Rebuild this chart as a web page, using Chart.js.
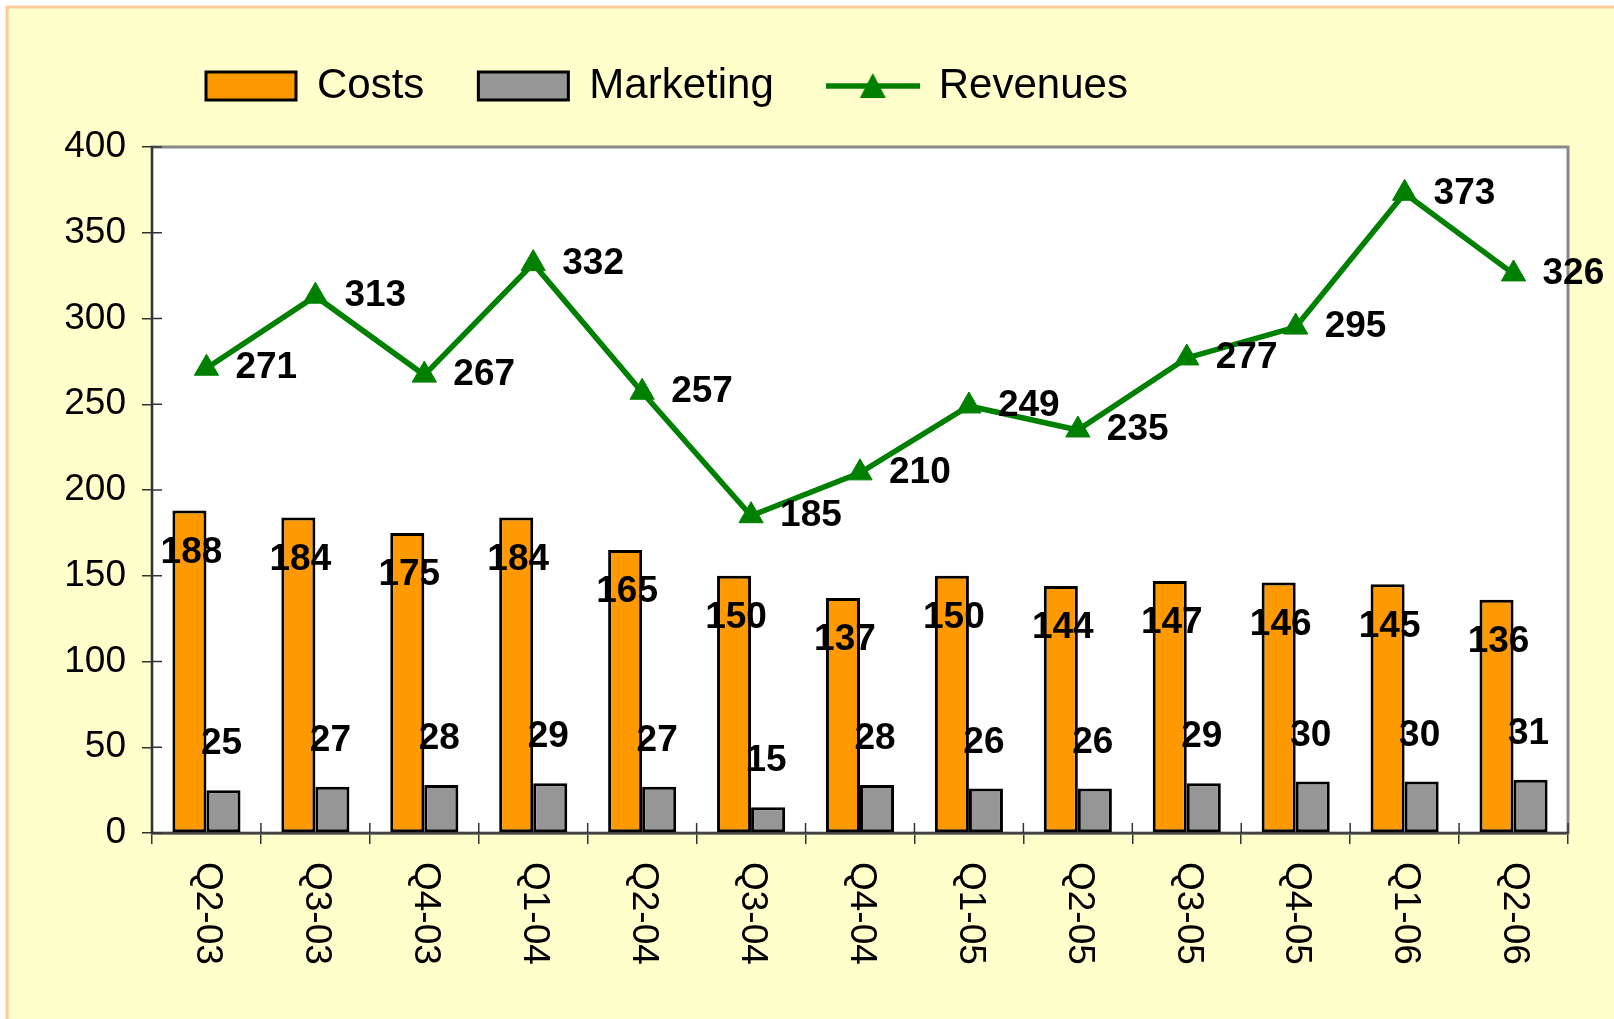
<!DOCTYPE html>
<html>
<head>
<meta charset="utf-8">
<title>Costs, Marketing and Revenues</title>
<script src="https://cdn.jsdelivr.net/npm/chart.js@4/dist/chart.umd.min.js"></script>
<style>
  html, body { margin: 0; padding: 0; background: #fff; overflow: hidden; }
  canvas { display: block; }
</style>
</head>
<body>
<canvas id="myChart" width="1614" height="1019"></canvas>
<script>
"use strict";

// quarters on the x axis
const quarters = ["Q2-03", "Q3-03", "Q4-03", "Q1-04", "Q2-04", "Q3-04", "Q4-04",
  "Q1-05", "Q2-05", "Q3-05", "Q4-05", "Q1-06", "Q2-06"];

// series values
const costs = [188, 184, 175, 184, 165, 150, 137, 150, 144, 147, 146, 145, 136];
const marketing = [25, 27, 28, 29, 27, 15, 28, 26, 26, 29, 30, 30, 31];
const revenues = [271, 313, 267, 332, 257, 185, 210, 249, 235, 277, 295, 373, 326];

// y axis ticks
const yTicks = [0, 50, 100, 150, 200, 250, 300, 350, 400];

const FONT = '"Liberation Sans", Arial, sans-serif';

//legend icon for the line series (line with a triangle on it)
const revIcon = document.createElement("canvas");
revIcon.width = 94;
revIcon.height = 30;
(function () {
  const g = revIcon.getContext("2d");
  g.strokeStyle = "#008000";
  g.lineWidth = 5.5;
  g.beginPath();
  g.moveTo(0, 15);
  g.lineTo(94, 15);
  g.stroke();
  g.fillStyle = "#008000";
  g.beginPath();
  g.moveTo(47, 2);
  g.lineTo(60, 27);
  g.lineTo(34, 27);
  g.closePath();
  g.fill();
})();

// page background, white plot area and its grey frame
const frame = {
  id: "frame",
  beforeDraw(chart) {
    const { ctx, chartArea: a } = chart;
    ctx.save();
    ctx.fillStyle = "#fff";
    ctx.fillRect(0, 0, chart.width, chart.height);
    ctx.fillStyle = "#FFFFCC";
    ctx.fillRect(7, 7, chart.width, chart.height);
    ctx.strokeStyle = "#FFCC99";
    ctx.lineWidth = 3;
    ctx.beginPath();
    ctx.moveTo(7, chart.height);
    ctx.lineTo(7, 7);
    ctx.lineTo(chart.width, 7);
    ctx.stroke();
    ctx.fillStyle = "#fff";
    ctx.fillRect(a.left, a.top, a.right - a.left, a.bottom - a.top);
    ctx.strokeStyle = "#888";
    ctx.lineWidth = 3;
    ctx.strokeRect(a.left, a.top, a.right - a.left, a.bottom - a.top);
    ctx.restore();
  },
};

// value labels next to bars and points
const valueLabels = {
  id: "valueLabels",
  afterDatasetsDraw(chart) {
    const ctx = chart.ctx;
    ctx.save();
    ctx.font = "bold 37px " + FONT;
    ctx.fillStyle = "#000";
    ctx.textBaseline = "middle";
    chart.data.datasets.forEach((ds, i) => {
      const meta = chart.getDatasetMeta(i);
      meta.data.forEach((el, j) => {
        const v = ds.data[j];
        if (ds.type === "line") {
          ctx.textAlign = "left";
          ctx.fillText(v, el.x + 29, el.y);
        } else if (i === 0) {
          ctx.textAlign = "center";
          ctx.fillText(v, el.x + 2, el.y + 42);
        } else {
          ctx.textAlign = "center";
          ctx.fillText(v, el.x - 2, el.y - 46);
        }
      });
    });
    ctx.restore();
  },
};

// vertical x labels (clockwise) and inner halves of the tick marks
const axisExtras = {
  id: "axisExtras",
  afterDraw(chart) {
    const ctx = chart.ctx;
    const xs = chart.scales.x;
    const ys = chart.scales.y;
    ctx.save();
    ctx.font = "37px " + FONT;
    ctx.fillStyle = "#000";
    quarters.forEach((q, i) => {
      ctx.save();
      ctx.translate(xs.getPixelForValue(i) + 1, xs.top + 29);
      ctx.rotate(Math.PI / 2);
      ctx.textAlign = "left";
      ctx.textBaseline = "middle";
      ctx.fillText(q, 0, 0);
      ctx.restore();
    });
    ctx.strokeStyle = "#333";
    ctx.lineWidth = 1.5;
    ctx.beginPath();
    ys.ticks.forEach((t, i) => {
      const y = ys.getPixelForTick(i);
      ctx.moveTo(ys.right, y);
      ctx.lineTo(ys.right + 10, y);
    });
    for (let i = 0; i <= quarters.length; i++) {
      const x = xs.getPixelForValue(i - 0.5);
      ctx.moveTo(x, xs.top);
      ctx.lineTo(x, xs.top - 10);
    }
    ctx.stroke();
    ctx.restore();
  },
};

const ctx = document.getElementById("myChart");
new Chart(ctx, {
  type: "bar",
  data: {
    labels: quarters,
    datasets: [
      {
        label: "Costs",
        data: costs,
        backgroundColor: "#FF9900",
        borderColor: "#000",
        borderWidth: 3,
        borderSkipped: false,
        categoryPercentage: 0.625,
        barPercentage: 1.0,
        order: 1,
      },
      {
        label: "Marketing",
        data: marketing,
        backgroundColor: "#969696",
        borderColor: "#000",
        borderWidth: 3,
        borderSkipped: false,
        categoryPercentage: 0.625,
        barPercentage: 1.0,
        order: 1,
      },
      {
        type: "line",
        label: "Revenues",
        data: revenues,
        borderColor: "#008000",
        backgroundColor: "#008000",
        borderWidth: 5.5,
        tension: 0,
        pointStyle: "triangle",
        pointRadius: 14,
        pointBackgroundColor: "#008000",
        pointBorderColor: "#008000",
        pointBorderWidth: 1,
        order: 0,
      },
    ],
  },
  options: {
    responsive: false,
    animation: false,
    devicePixelRatio: 1,
    events: [],
    layout: {
      padding: { top: 11, right: 46, bottom: 0, left: 0 },
    },
    plugins: {
      tooltip: { enabled: false },
      legend: {
        position: "top",
        align: "start",
        fullSize: false,
        labels: {
          usePointStyle: true,
          pointStyleWidth: 90,
          boxWidth: 90,
          boxHeight: 28,
          padding: 54,
          color: "#000",
          font: { family: FONT, size: 42 },
          generateLabels: () => [
            { text: "Costs", fillStyle: "#FF9900", strokeStyle: "#000", lineWidth: 3, pointStyle: "rect", datasetIndex: 0, hidden: false },
            { text: "Marketing", fillStyle: "#969696", strokeStyle: "#000", lineWidth: 3, pointStyle: "rect", datasetIndex: 1, hidden: false },
            { text: "Revenues", fillStyle: "#008000", strokeStyle: "#008000", lineWidth: 0, pointStyle: revIcon, datasetIndex: 2, hidden: false },
          ],
        },
      },
    },
    scales: {
      x: {
        offset: true,
        grid: {
          offset: true,
          drawOnChartArea: false,
          tickLength: 11,
          color: "#333",
          lineWidth: 1.5,
        },
        border: { color: "#444", width: 2.5 },
        ticks: { display: false },
        afterFit: (scale) => {
          scale.height = 186;
        },
      },
      y: {
        min: 0,
        max: 400,
        afterBuildTicks: (scale) => {
          scale.ticks = yTicks.map((v) => ({ value: v }));
        },
        grid: {
          drawOnChartArea: false,
          tickLength: 10,
          color: "#333",
          lineWidth: 1.5,
        },
        border: { color: "#333", width: 2 },
        ticks: {
          padding: 16,
          color: "#000",
          font: { family: FONT, size: 37 },
        },
        afterFit: (scale) => {
          scale.width = 152;
        },
      },
    },
  },
  plugins: [
    frame,
    valueLabels,
    axisExtras,
    {
      id: "legendHeight",
      beforeInit(chart) {
        const fit = chart.legend.fit;
        chart.legend.fit = function () {
          fit.bind(chart.legend)();
          this.height = 136;
        };
      },
    },
  ],
});
</script>
</body>
</html>
